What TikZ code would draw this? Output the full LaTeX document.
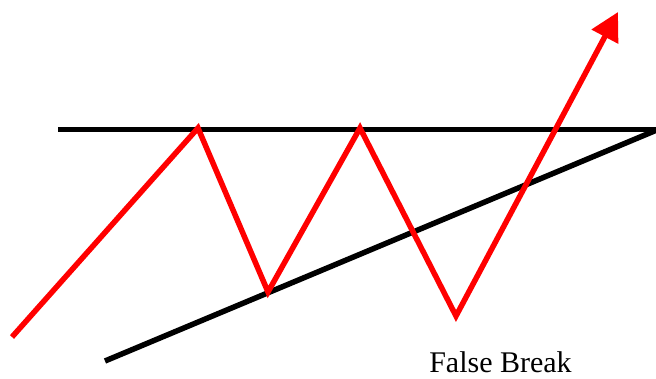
\documentclass[tikz,border=0pt]{standalone}
\usepackage{fontspec}
\setmainfont{Liberation Serif}
\usetikzlibrary{arrows.meta}
\begin{document}
\begin{tikzpicture}[x=1pt,y=-1pt,
  blackline/.style={draw=black,line width=5.5pt},
  redline/.style={draw=red,line width=5.5pt,line join=miter},
  label/.style={font=\fontsize{30}{33}\selectfont,inner sep=0pt,text depth=0pt}]
\useasboundingbox (0,0) rectangle (656,378);
\coordinate (hl) at (58,129.5);
\coordinate (hr) at (658,129.5);
\coordinate (ll) at (105,361);
\coordinate (lr) at (658,129.5);
\coordinate (s) at (12,337);
\coordinate (p1) at (198,128);
\coordinate (v1) at (268,292);
\coordinate (p2) at (360,128);
\coordinate (v2) at (456,316);
\coordinate (tip) at (618,12);
\draw[blackline] (hl) -- (hr);
\draw[blackline] (ll) -- (lr);
\draw[redline,-{Triangle[length=28pt,width=29pt]}] (s) -- (p1) -- (v1) -- (p2) -- (v2) -- (tip);
\node[label,anchor=base] (fb) at (500.5,372) {False Break};
\end{tikzpicture}
\end{document}
